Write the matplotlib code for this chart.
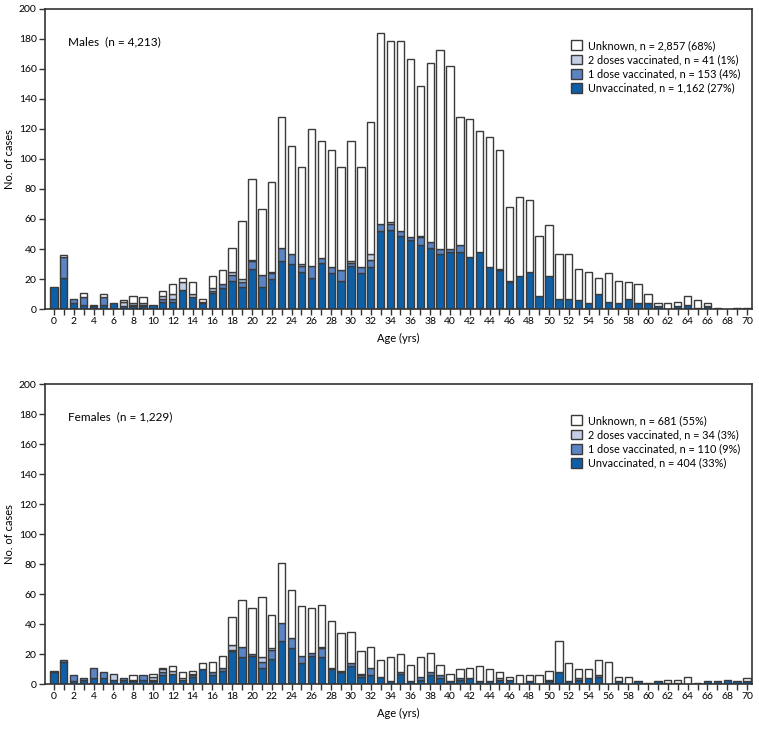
import matplotlib
matplotlib.use("Agg")
import matplotlib.pyplot as plt
import numpy as np
from matplotlib.patches import Patch

plt.rcParams['font.family'] = ['Lato', 'DejaVu Sans']

ages = list(range(71))

m_unvax = [15,21,4,3,2,3,4,2,2,2,3,5,5,13,8,4,11,14,19,15,27,15,20,32,30,25,21,31,24,19,
           29,24,28,52,53,49,46,43,41,37,38,38,35,38,28,26,18,22,25,9,22,7,7,6,4,10,5,4,7,4,
           4,2,0,2,3,1,2,1,0,1,1]
m_dose1 = [0,14,3,5,1,5,0,0,1,1,0,2,2,0,0,0,1,3,4,3,5,8,4,9,7,4,8,3,4,7,
           2,4,5,5,4,3,2,5,4,3,2,5,0,0,0,1,1,0,0,0,0,0,0,0,0,0,0,0,0,0,
           0,0,0,0,0,0,0,0,0,0,0]
m_dose2 = [0,0,0,0,0,0,0,3,1,1,0,2,3,5,2,1,2,0,2,2,1,0,1,0,0,1,0,0,0,0,
           1,0,4,0,1,0,0,1,0,0,0,0,0,0,0,0,0,0,0,0,0,0,0,0,0,0,0,0,0,0,
           0,0,0,0,0,0,0,0,0,0,0]
m_unk = [0,1,0,3,0,2,0,1,5,4,0,3,7,3,8,2,8,9,16,39,54,44,60,87,72,65,91,78,78,69,
         80,67,88,127,121,127,119,100,119,133,122,85,92,81,87,79,49,53,48,40,34,30,30,21,21,11,19,15,11,13,
         6,2,4,3,6,5,2,0,0,0,0]

f_unvax = [8,15,2,3,4,4,3,3,2,3,2,6,7,3,5,10,6,9,22,18,19,11,17,29,24,14,19,18,10,8,
           12,5,6,5,2,7,2,3,6,4,2,3,4,2,2,3,3,0,2,0,2,8,2,3,4,5,0,2,0,2,
           1,2,1,1,0,1,2,2,3,2,2]
f_dose1 = [1,1,4,1,7,4,0,1,0,3,1,2,0,0,1,0,2,2,1,7,1,4,6,12,7,5,2,6,1,1,
           2,1,5,0,0,1,0,2,2,2,0,1,0,0,0,0,0,0,0,0,1,0,0,1,0,1,0,0,0,0,
           0,0,0,0,0,0,0,0,0,0,0]
f_dose2 = [0,0,0,0,0,0,4,0,1,0,2,2,2,1,1,0,0,0,3,0,0,3,1,0,0,0,0,1,0,0,
           0,1,0,0,0,0,0,0,0,0,0,0,0,0,0,1,0,0,0,0,0,0,0,0,0,0,0,0,0,0,
           0,0,0,0,0,0,0,0,0,0,0]
f_unk = [0,0,0,0,0,0,0,0,3,0,2,1,3,4,2,4,7,8,19,31,31,40,22,40,32,33,30,28,31,25,
         21,15,14,11,16,12,11,13,13,7,5,6,7,10,8,4,2,6,4,6,6,21,12,6,6,10,15,3,5,0,
         0,0,2,2,5,0,0,0,0,0,2]

series_names = ["Unvaccinated", "1 dose vaccinated", "2 doses vaccinated", "Unknown"]
colors = ["#0f5fa6", "#5b84c4", "#c4cee5", "#ffffff"]
male_labels = ["Unknown, n = 2,857 (68%)", "2 doses vaccinated, n = 41 (1%)",
               "1 dose vaccinated, n = 153 (4%)", "Unvaccinated, n = 1,162 (27%)"]
female_labels = ["Unknown, n = 681 (55%)", "2 doses vaccinated, n = 34 (3%)",
                 "1 dose vaccinated, n = 110 (9%)", "Unvaccinated, n = 404 (33%)"]

W, H = 759, 732
fig = plt.figure(figsize=(W/100, H/100), dpi=100)
edge = "#3a3a3a"

def panel(rect, data, title, labels):
    ax = fig.add_axes(rect)
    x = np.array(ages)
    bottom = np.zeros(len(ages))
    for vals, c in zip(data, colors):
        v = np.array(vals, dtype=float)
        lw = np.where(v > 0, 1.0, 0.0)
        ax.bar(x, v, width=0.74, bottom=bottom, color=c, edgecolor=edge, linewidth=lw, zorder=2)
        bottom += v
    ax.set_xlim(-0.9, 70.5)
    ax.set_ylim(0, 200)
    ax.set_yticks(range(0, 201, 20))
    ax.set_xticks(ages)
    ax.set_xticklabels([str(a) if a % 2 == 0 else "" for a in ages])
    ax.tick_params(axis='both', direction='out', length=4, width=1, color="#333333",
                   labelsize=7.5, pad=2)
    for s in ax.spines.values():
        s.set_color("#333333")
        s.set_linewidth(1.2)
    ax.set_ylabel("No. of cases", fontsize=8, labelpad=3)
    ax.set_xlabel("Age (yrs)", fontsize=8, labelpad=5)
    ax.text(0.032, 0.89, title, transform=ax.transAxes, fontsize=8.5, va='center', ha='left')
    handles = [Patch(facecolor=colors[i], edgecolor=edge, linewidth=1.0) for i in [3, 2, 1, 0]]
    ax.legend(handles, labels, loc='upper left', bbox_to_anchor=(0.737, 0.915), frameon=False,
              fontsize=7.8, handlelength=1.0, handleheight=1.0, handletextpad=0.5,
              labelspacing=0.3, borderpad=0)
    return ax

ax1 = panel([45/W, 1-309/H, 707/W, 300/H], [m_unvax, m_dose1, m_dose2, m_unk],
            "Males  (n = 4,213)", male_labels)
ax2 = panel([45/W, 1-684/H, 707/W, 300/H], [f_unvax, f_dose1, f_dose2, f_unk],
            "Females  (n = 1,229)", female_labels)

fig.savefig("out.png", dpi=100)
